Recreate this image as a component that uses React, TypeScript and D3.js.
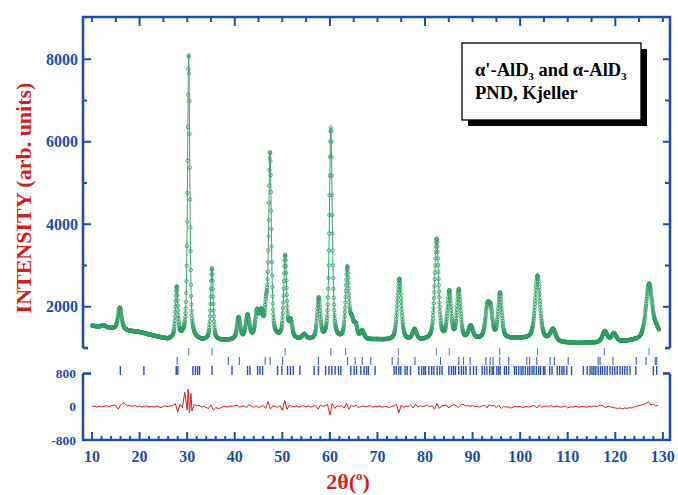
import React from "react";
import * as d3 from "d3";

// ---- data ----
// Bragg peaks of the profile (2θ position, height above background, FWHM)
const peakPos = [12.4, 15.85, 27.8, 30.32, 35.2, 40.8, 42.7, 44.7, 45.6, 46.6, 47.42, 50.6, 51.75, 54.6, 57.65, 60.2, 63.65, 64.6, 65.4, 66.8, 74.6, 77.8, 82.45, 85.1, 87.1, 89.6, 93.1, 93.8, 95.75, 103.65, 106.9, 117.8, 119.7, 127.1, 128.7];
const peakHeight = [60, 540, 1220, 6900, 1750, 530, 570, 620, 540, 650, 4450, 2000, 400, 120, 1000, 5150, 1730, 400, 320, 200, 1500, 260, 2450, 1150, 1200, 320, 720, 600, 1100, 1550, 290, 270, 210, 1350, 150];
const peakFwhm = [1.2, 0.9, 0.6, 0.55, 0.6, 0.8, 0.9, 0.9, 0.8, 0.7, 0.65, 0.7, 0.8, 1.0, 0.8, 0.7, 0.8, 0.8, 0.8, 0.9, 1.0, 1.0, 0.95, 0.9, 0.9, 1.1, 1.0, 0.9, 0.9, 1.2, 1.3, 1.2, 1.2, 1.6, 1.2];

// background level
const bgPos = [10, 12, 14, 17, 20, 23, 26, 28.5, 31, 33, 37, 40, 45, 50, 54, 58, 62, 66, 70, 73, 77, 80, 84, 88, 91, 97, 100, 104, 108, 112, 116, 120, 124, 126, 129.2];
const bgInt = [1540, 1490, 1470, 1420, 1380, 1290, 1200, 1240, 1200, 1170, 1170, 1180, 1200, 1200, 1180, 1160, 1160, 1180, 1190, 1170, 1160, 1170, 1170, 1170, 1190, 1210, 1220, 1190, 1130, 1110, 1120, 1130, 1170, 1170, 1250];

// difference curve (obs - calc)
const diffPos = [10, 10.5, 11, 11.5, 12, 12.5, 13, 13.5, 14, 14.5, 15, 15.5, 16, 16.5, 17, 17.5, 18, 18.5, 19, 19.5, 20, 20.5, 21, 21.5, 22, 22.5, 23, 23.5, 24, 24.5, 25, 25.5, 26, 26.5, 27, 27.5, 28, 28.5, 29, 29.5, 30, 30.2, 30.5, 30.8, 31, 31.5, 32, 32.5, 33, 33.5, 34, 34.5, 35, 35.5, 36, 36.5, 37, 37.5, 38, 38.5, 39, 39.5, 40, 40.5, 41, 41.5, 42, 42.5, 43, 43.5, 44, 44.5, 45, 45.5, 46, 46.5, 47, 47.5, 48, 48.5, 49, 49.5, 50, 50.5, 51, 51.5, 52, 52.5, 53, 53.5, 54, 54.5, 55, 55.5, 56, 56.5, 57, 57.5, 58, 58.5, 59, 59.5, 60, 60.5, 61, 61.5, 62, 62.5, 63, 63.5, 64, 64.5, 65, 65.5, 66, 66.5, 67, 67.5, 68, 68.5, 69, 69.5, 70, 70.5, 71, 71.5, 72, 72.5, 73, 73.5, 74, 74.5, 75, 75.5, 76, 76.5, 77, 77.5, 78, 78.5, 79, 79.5, 80, 80.5, 81, 81.5, 82, 82.5, 83, 83.5, 84, 84.5, 85, 85.5, 86, 86.5, 87, 87.5, 88, 88.5, 89, 89.5, 90, 90.5, 91, 91.5, 92, 92.5, 93, 93.5, 94, 94.5, 95, 95.5, 96, 96.5, 97, 97.5, 98, 98.5, 99, 99.5, 100, 100.5, 101, 101.5, 102, 102.5, 103, 103.5, 104, 104.5, 105, 105.5, 106, 106.5, 107, 107.5, 108, 108.5, 109, 109.5, 110, 110.5, 111, 111.5, 112, 112.5, 113, 113.5, 114, 114.5, 115, 115.5, 116, 116.5, 117, 117.5, 118, 118.5, 119, 119.5, 120, 120.5, 121, 121.5, 122, 122.5, 123, 123.5, 124, 124.5, 125, 125.5, 126, 126.5, 127, 127.5, 128, 128.5, 129];
const diffVal = [0, 20, -10, 15, -5, 10, 30, 0, 20, 40, 30, -60, 40, 100, 60, 20, 30, 10, 30, 0, 20, -10, 10, 20, 0, 10, -10, 20, 0, -20, 10, 20, 0, 30, 20, 80, -120, 60, -20, 350, -80, 420, -150, 320, -100, 60, 20, 30, -10, 10, -20, -40, 40, -80, -20, -40, -30, 0, 10, -10, 20, 10, 30, 40, -10, 10, 20, -20, 50, 10, -10, 20, -20, 10, 30, -40, 120, -60, 20, 10, -20, 30, -90, 150, -60, 40, 10, 0, 20, -10, 10, 30, 0, 20, -10, 10, 30, -60, 40, 10, 20, 60, -200, 80, -40, 20, 10, 30, -30, 80, -60, 30, 10, 40, -20, 10, 20, 0, 10, 30, -10, 10, 0, 20, -10, 10, 0, -20, 10, 20, 60, -150, 40, -20, 20, 0, 40, -30, 60, -10, 30, 0, 20, 40, 0, 30, -60, 80, -40, 20, 30, 40, -30, 20, 50, 30, -20, 40, 60, 20, 30, 10, 30, 0, 10, -10, 20, 40, -30, 50, 20, 30, -20, 40, -40, 10, -10, 0, -30, -10, 10, 0, 10, -20, 0, 10, -10, 20, 30, -30, 40, -10, 10, 20, 10, 30, 0, 20, 10, -10, 0, 20, -30, 0, -10, 10, 0, -10, 10, 0, -10, 10, 0, 20, 0, 20, 40, 10, -20, 10, 0, -20, -30, -40, -30, -50, -30, -40, -20, -30, 0, 10, 30, 40, 60, 80, 120, 40, 60, 20, 30];

// reflection markers (three phases)
const braggRow1 = [30.33, 35.24, 50.6, 60.2, 63.3, 74.4, 82.4, 85.1, 95.7, 103.65, 117.7, 127.1];
const braggRow2 = [27.9, 38.66, 40.97, 46.4, 47.46, 50.05, 57.6, 63.7, 65.3, 66.8, 68.6, 73.1, 74.35, 77.9, 83.25, 87.1, 88.1, 89.5, 92.8, 93.7, 94.3, 95.7, 97.6, 101.4, 102.0, 103.5, 106.3, 107.2, 110.1, 116.4, 116.8, 119.5, 124.4, 126.45, 128.4, 128.7];
const braggRow3 = [15.95, 20.9, 27.7, 28.04, 31.2, 31.74, 32.2, 32.6, 35.23, 39.43, 42.7, 43.2, 44.8, 45.3, 45.86, 49.0, 49.9, 51.1, 51.7, 52.3, 53.7, 56.7, 57.6, 59.1, 59.8, 60.4, 61.1, 61.8, 62.3, 64.4, 65.1, 65.6, 66.5, 67.2, 67.7, 68.1, 69.5, 73.5, 73.95, 74.5, 74.9, 75.8, 76.25, 76.95, 78.7, 79.3, 79.75, 80.1, 80.8, 81.4, 81.85, 82.55, 83.1, 83.6, 85.0, 85.55, 86.0, 86.4, 87.1, 87.65, 88.1, 88.6, 89.5, 90.2, 90.8, 92.0, 92.5, 93.0, 93.6, 94.1, 94.4, 95.1, 95.5, 95.8, 96.7, 97.1, 97.6, 98.8, 99.2, 99.7, 100.2, 100.6, 101.1, 101.6, 102.0, 102.5, 102.9, 103.4, 103.9, 104.3, 104.9, 105.2, 106.2, 106.7, 107.8, 108.3, 108.8, 109.2, 109.8, 110.8, 113.3, 114.1, 114.7, 115.1, 115.5, 115.9, 116.4, 116.9, 117.3, 117.8, 118.3, 118.9, 119.4, 119.9, 120.4, 121.0, 121.5, 122.0, 122.5, 123.1, 124.3, 128.0, 128.7];

const xTickLabels = [10, 20, 30, 40, 50, 60, 70, 80, 90, 100, 110, 120, 130];
const yTickLabels = [2000, 4000, 6000, 8000];
const diffTickLabels = [800, 0, -800];
const scanStart = 10;
const scanEnd = 129.2;
const scanStep = 0.05;

// ---- styles ----
const BLUE = "#1c4fa6";
const RED = "#d71e1e";
const GREEN_OBS = "#14904a";
const GREEN_LINE = "#3aa66c";
const SERIF = "'Liberation Serif', 'Times New Roman', serif";

export default function App() {
  const W = 678, H = 495;
  const L = 83, R = 670;
  const x = d3.scaleLinear().domain([8.1, 131.5]).range([L, R]);
  const y = d3.scaleLinear().domain([1000, 9000]).range([348, 18]);
  const yd = d3.scaleLinear().domain([-800, 800]).range([440, 373.5]);
  const bg = d3.scaleLinear().domain(bgPos).range(bgInt).clamp(true);

  const profile = (t: number) => {
    let s = bg(t);
    for (let i = 0; i < peakPos.length; i++) {
      const dx = t - peakPos[i];
      const w = peakFwhm[i];
      const q = (dx * dx) / (w * w);
      if (q > 4000) continue;
      const lor = 1 / (1 + 4 * q);
      const gau = Math.exp(-4 * Math.LN2 * q);
      s += peakHeight[i] * (0.55 * lor + 0.45 * gau);
    }
    return s;
  };

  const n = Math.round((scanEnd - scanStart) / scanStep);
  const pts: [number, number][] = [];
  for (let i = 0; i <= n; i++) {
    const t = scanStart + i * scanStep;
    pts.push([t, profile(t)]);
  }

  const line = d3.line<[number, number]>().x((d) => x(d[0])).y((d) => y(d[1]));
  const diffLine = d3.line<number>().x((_, i) => x(diffPos[i])).y((d) => yd(d));

  const topTicks = d3.range(10, 131, 5);
  const bottomTicks = d3.range(10, 131, 2);
  const leftTicks = d3.range(2000, 9000, 1000);

  const axisW = 2.6;

  return (
    <svg width={W} height={H} style={{ display: "block", position: "absolute", left: 0, top: 0, background: "#fff" }} fontFamily={SERIF}>
      {/* upper frame */}
      <path d={`M${L},348 L${L},17 L${R},17 L${R},348`} fill="none" stroke={BLUE} strokeWidth={axisW} />
      <line x1={L} x2={L + 5} y1={348} y2={348} stroke={BLUE} strokeWidth={axisW} />
      <line x1={R} x2={R - 5} y1={348} y2={348} stroke={BLUE} strokeWidth={axisW} />
      {topTicks.map((t) => (
        <line key={"tt" + t} x1={x(t)} x2={x(t)} y1={17} y2={t % 20 === 0 ? 26 : 22} stroke={BLUE} strokeWidth={2} />
      ))}
      {leftTicks.map((v) => (
        <line key={"lt" + v} x1={L} x2={L + (v % 2000 === 0 ? 8 : 4)} y1={y(v)} y2={y(v)} stroke={BLUE} strokeWidth={2} />
      ))}
      {leftTicks.map((v) => (
        <line key={"rt" + v} x1={R} x2={R - (v % 2000 === 0 ? 7 : 5)} y1={y(v)} y2={y(v)} stroke={BLUE} strokeWidth={2} />
      ))}
      {yTickLabels.map((v) => (
        <text key={"yl" + v} x={78} y={y(v)} dy="0.35em" textAnchor="end" fontSize={16} fontWeight="bold" fill={BLUE}>{v}</text>
      ))}

      {/* lower frame */}
      <path d={`M${L},373.5 L${L},440 L${R},440 L${R},373.5`} fill="none" stroke={BLUE} strokeWidth={axisW} />
      <line x1={L} x2={L + 8} y1={373.5} y2={373.5} stroke={BLUE} strokeWidth={axisW} />
      <line x1={R} x2={R - 7} y1={373.5} y2={373.5} stroke={BLUE} strokeWidth={axisW} />
      {bottomTicks.map((t) => (
        <line key={"bt" + t} x1={x(t)} x2={x(t)} y1={440} y2={t % 10 === 0 ? 432 : 436} stroke={BLUE} strokeWidth={2} />
      ))}
      {diffTickLabels.map((v) => (
        <text key={"dl" + v} x={76} y={yd(v)} dy="0.35em" textAnchor="end" fontSize={13.5} fontWeight="bold" fill={BLUE}>{v}</text>
      ))}
      {xTickLabels.map((v) => (
        <text key={"xl" + v} x={x(v)} y={462} textAnchor="middle" fontSize={16} fontWeight="bold" fill={BLUE}>{v}</text>
      ))}

      {/* reflection markers */}
      {braggRow1.map((t, i) => (
        <line key={"b1" + i} x1={x(t)} x2={x(t)} y1={348} y2={355.5} stroke="#6c7ccc" strokeWidth={1.1} />
      ))}
      {braggRow2.map((t, i) => (
        <line key={"b2" + i} x1={x(t)} x2={x(t)} y1={357} y2={365} stroke="#4464be" strokeWidth={1.1} />
      ))}
      {braggRow3.map((t, i) => (
        <line key={"b3" + i} x1={x(t)} x2={x(t)} y1={366} y2={375} stroke="#2a50b2" strokeWidth={1.4} />
      ))}

      {/* observed and calculated */}
      <g fill="none" stroke={GREEN_OBS} strokeWidth={0.8} opacity={0.9}>
        {pts.map((p, i) => (
          <circle key={"o" + i} cx={x(p[0])} cy={y(p[1])} r={1.7} />
        ))}
      </g>
      <path d={line(pts) || ""} fill="none" stroke={GREEN_LINE} strokeWidth={1} />

      {/* difference */}
      <path d={diffLine(diffVal) || ""} fill="none" stroke={RED} strokeWidth={1} />

      {/* legend box */}
      <rect x={468} y={49} width={179} height={77} fill="#000" />
      <rect x={462} y={43} width={179} height={77} fill="#fff" stroke="#000" strokeWidth={1.3} />
      <text x={475} y={76} fontSize={18.5} fontWeight="bold" fill="#000">
        α'-AlD<tspan fontSize={10.5} dy={4}>3</tspan><tspan dy={-4}> and α-AlD</tspan><tspan fontSize={10.5} dy={4}>3</tspan>
      </text>
      <text x={475} y={99} fontSize={18.5} fontWeight="bold" fill="#000">PND, Kjeller</text>

      {/* axis titles */}
      <text transform="translate(31,198) rotate(-90)" textAnchor="middle" fontSize={22} fontWeight="bold" fill={RED}>INTENSITY (arb. units)</text>
      <text x={348} y={489} textAnchor="middle" fontSize={22} fontWeight="bold" fill={RED}>
        2θ(<tspan fontSize={13} dy={-9}>o</tspan><tspan dy={9}>)</tspan>
      </text>
    </svg>
  );
}
